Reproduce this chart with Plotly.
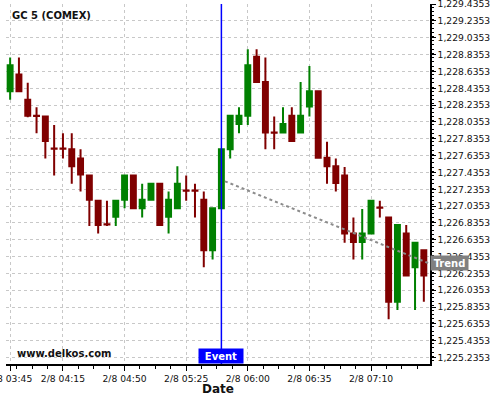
import pandas as pd
import plotly.graph_objects as go

# ---- data ----
start_time = "2018-02-08 03:45"
opens = [1228.40, 1228.60, 1228.30, 1228.11, 1228.10, 1227.72, 1227.72, 1227.71, 1227.60, 1227.40,
         1227.10, 1226.82, 1226.91, 1227.11, 1227.40, 1227.01, 1227.11, 1227.30, 1226.91, 1227.01,
         1227.22, 1227.22, 1227.11, 1226.51, 1227.01, 1227.71, 1228.01, 1228.11, 1228.81, 1228.51,
         1227.91, 1227.91, 1228.11, 1227.91, 1228.22, 1228.40, 1227.61, 1227.51, 1227.40, 1226.71,
         1226.61, 1226.71, 1227.02, 1226.90, 1225.90, 1226.71, 1226.31, 1226.51]
highs = [1228.80, 1228.80, 1228.50, 1228.21, 1228.10, 1228.00, 1227.90, 1227.90, 1227.71, 1227.40,
         1227.10, 1227.10, 1227.10, 1227.40, 1227.40, 1227.30, 1227.30, 1227.30, 1227.21, 1227.51,
         1227.40, 1227.30, 1227.21, 1227.01, 1227.71, 1228.11, 1228.21, 1228.90, 1228.90, 1228.80,
         1228.10, 1228.21, 1228.21, 1228.51, 1228.70, 1228.40, 1227.80, 1227.60, 1227.50, 1226.90,
         1227.00, 1227.10, 1227.10, 1226.90, 1226.81, 1226.81, 1226.60, 1226.51]
lows = [1228.30, 1228.39, 1228.09, 1227.90, 1227.60, 1227.40, 1227.60, 1227.30, 1227.21, 1226.80,
        1226.71, 1226.80, 1226.80, 1227.01, 1227.00, 1226.90, 1227.10, 1226.80, 1226.71, 1227.01,
        1227.10, 1226.90, 1226.31, 1226.40, 1227.01, 1227.60, 1227.90, 1228.00, 1228.50, 1227.71,
        1227.71, 1227.90, 1227.80, 1227.90, 1228.10, 1227.60, 1227.30, 1227.21, 1226.60, 1226.40,
        1226.40, 1226.71, 1226.90, 1225.69, 1225.80, 1226.21, 1225.80, 1225.90]
closes = [1228.71, 1228.40, 1228.11, 1228.107, 1227.81, 1227.717, 1227.717, 1227.51, 1227.41, 1227.11,
          1226.81, 1226.817, 1227.10, 1227.40, 1227.01, 1227.11, 1227.30, 1226.81, 1227.11, 1227.30,
          1227.217, 1227.217, 1226.51, 1227.01, 1227.71, 1228.11, 1228.11, 1228.71, 1228.51, 1227.91,
          1227.907, 1228.01, 1227.81, 1228.11, 1228.40, 1227.61, 1227.51, 1227.31, 1226.71, 1226.61,
          1226.71, 1227.10, 1227.017, 1225.90, 1226.81, 1226.21, 1226.60, 1226.21]

tick_labels = ["2/8 03:45", "2/8 04:15", "2/8 04:50", "2/8 05:25", "2/8 06:00", "2/8 06:35", "2/8 07:10"]
event_label = "2/8 05:45"
trend_values = [1227.33, 1226.35]
trend_label_value = 1226.355
trend_span = ["2018-02-08 05:47:00", "2018-02-08 07:43:30"]

times = pd.date_range(start_time, periods=len(opens), freq="5min")
tick_vals = [pd.Timestamp("2018-02-08 " + t.split(" ")[1]) for t in tick_labels]
event_time = pd.Timestamp("2018-02-08 " + event_label.split(" ")[1])

GREEN = "#008000"
RED = "#800000"

fig = go.Figure()
fig.add_trace(go.Candlestick(
    x=times, open=opens, high=highs, low=lows, close=closes,
    increasing=dict(line=dict(color=GREEN, width=2), fillcolor=GREEN),
    decreasing=dict(line=dict(color=RED, width=2), fillcolor=RED),
    whiskerwidth=0, showlegend=False, hoverinfo="skip",
))
fig.add_trace(go.Scatter(
    x=[pd.Timestamp(t) for t in trend_span], y=trend_values, mode="lines",
    line=dict(color="#8c8c8c", width=2, dash="dot"), showlegend=False, hoverinfo="skip",
))

x0 = times[0] - pd.Timedelta(minutes=2.35)
x1 = times[0] + pd.Timedelta(minutes=238.5)

fig.update_layout(
    width=500, height=400,
    margin=dict(l=6, r=70, t=4, b=36),
    paper_bgcolor="white", plot_bgcolor="white",
    boxgap=0.2,
    font=dict(family="DejaVu Sans", color="#111111"),
    xaxis=dict(
        type="date", range=[x0, x1], rangeslider=dict(visible=False),
        tickmode="array", tickvals=tick_vals, ticktext=tick_labels,
        tickfont=dict(size=9.2, color="#111111"), ticklabeloverflow="allow",
        showgrid=True, gridcolor="#c8c8c8", griddash="3px,3px", gridwidth=1,
        showline=True, linecolor="black", linewidth=1.5,
        ticks="outside", ticklen=5, tickcolor="black",
        minor=dict(ticks="outside", ticklen=3, tickcolor="black",
                   tick0="2018-02-08 03:40", dtick=525000, showgrid=False),
        zeroline=False, automargin=False,
    ),
    yaxis=dict(
        side="right", range=[1225.159, 1229.437],
        tick0=1225.2353, dtick=0.2, tickformat=",.4f",
        tickfont=dict(size=9.2, color="#111111"), ticklabeloverflow="allow",
        showgrid=True, gridcolor="#c8c8c8", griddash="3px,3px", gridwidth=1,
        showline=True, linecolor="black", linewidth=1.5,
        ticks="outside", ticklen=4, tickcolor="black",
        minor=dict(ticks="outside", ticklen=2, tickcolor="black", dtick=0.05, showgrid=False),
        zeroline=False, automargin=False,
    ),
    shapes=[dict(type="line", xref="x", yref="paper", x0=event_time, x1=event_time,
                 y0=0, y1=1, line=dict(color="#0000ff", width=1.5))],
    annotations=[
        dict(text="<b>GC 5 (COMEX)</b>", xref="paper", yref="paper", x=0.0094, y=0.9675,
             xanchor="left", yanchor="middle", showarrow=False,
             font=dict(size=10, color="#111111")),
        dict(text="<b>www.delkos.com</b>", xref="paper", yref="paper", x=0.021, y=0.0286,
             xanchor="left", yanchor="middle", showarrow=False,
             font=dict(size=10, color="#111111")),
        dict(text="<b>Event</b>", xref="x", yref="paper", x=event_time, y=0,
             xanchor="center", yanchor="bottom", showarrow=False, bgcolor="#0000ff",
             width=42, height=12, borderpad=1, font=dict(size=10, color="white")),
        dict(text="<b>Trend</b>", xref="paper", yref="y", x=1, y=trend_label_value,
             xanchor="left", yanchor="middle", showarrow=False, bgcolor="#808080",
             width=35, height=12, borderpad=1, font=dict(size=10, color="white")),
        dict(text="<b>Date</b>", xref="paper", yref="paper", x=0.5, y=-0.0703,
             xanchor="center", yanchor="middle", showarrow=False,
             font=dict(size=12, color="#111111")),
    ],
)

fig.write_html("out.html", config={"displayModeBar": False},
               post_script="document.body.style.margin='0px';document.body.style.overflow='hidden';")
